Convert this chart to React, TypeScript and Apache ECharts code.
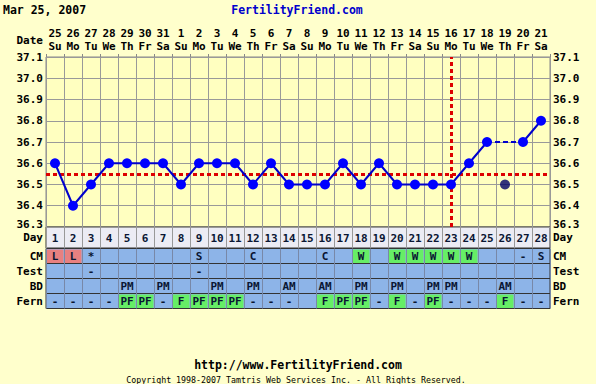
import React, { useEffect, useRef } from "react";
import * as echarts from "echarts";

const chartTitle = "Mar 25, 2007";
const siteName = "FertilityFriend.com";
const footerUrl = "http://www.FertilityFriend.com";
const copyright = "Copyright 1998-2007 Tamtris Web Services Inc. - All Rights Reserved.";

const dates = ["25","26","27","28","29","30","31","1","2","3","4","5","6","7","8","9","10","11","12","13","14","15","16","17","18","19","20","21"];
const weekdays = ["Su","Mo","Tu","We","Th","Fr","Sa","Su","Mo","Tu","We","Th","Fr","Sa","Su","Mo","Tu","We","Th","Fr","Sa","Su","Mo","Tu","We","Th","Fr","Sa"];
const cycleDays = dates.map((_, i) => String(i + 1));

// temperatures (null = discarded reading)
const temps: (number | null)[] = [36.6,36.4,36.5,36.6,36.6,36.6,36.6,36.5,36.6,36.6,36.6,36.5,36.6,36.5,36.5,36.5,36.6,36.5,36.6,36.5,36.5,36.5,36.5,36.6,36.7,null,36.7,36.8];
const discardedDays = ["26"];
const discardedTemps = [36.5];
const coverline = 36.555;
const ovulationDay = "23";

const tempTicks = [36.3, 37.1];

const rowNames = ["CM", "Test", "BD", "Fern"];
const cmRow = ["L","L","*","","","","","","S","","","C","","","","C","","W","","W","W","W","W","W","","","-","S"];
const testRow = ["","","-","","","","","","-","","","","","","","","","","","","","","","","","","",""];
const bdRow = ["","","","","PM","","PM","","","PM","","PM","","AM","","AM","","PM","","PM","","PM","PM","","","AM","",""];
const fernRow = ["-","-","-","-","PF","PF","-","F","PF","PF","PF","-","-","-","","F","PF","PF","-","F","-","PF","-","-","-","F","-","-"];

const FONT = '"DejaVu Sans Mono", monospace';

export default function App() {
  const ref = useRef<HTMLDivElement>(null);
  useEffect(() => {
    if (!ref.current) return;
    const chart = echarts.init(ref.current, undefined, { renderer: "svg" });

    const rows = [cmRow, testRow, bdRow, fernRow];
    const cells: { value: number[]; text: string }[] = [];
    rows.forEach((vals, r) =>
      vals.forEach((v, i) => {
        if (v) cells.push({ value: [i, r], text: v });
      })
    );
    const cellFill = (r: number, t: string) => {
      if (r === 0 && t === "L") return "#E88080";
      if (r === 0 && t === "W") return "#66EE66";
      if (r === 3 && (t === "PF" || t === "F")) return "#66EE66";
      return null;
    };

    // dashed bridge over discarded readings
    const bridge: (number | null)[] = temps.map(() => null);
    temps.forEach((t, i) => {
      if (t === null && i > 0 && i < temps.length - 1) {
        bridge[i - 1] = temps[i - 1];
        bridge[i + 1] = temps[i + 1];
      }
    });

    const tableText = (x: number, y: number, text: string) => ({
      type: "text",
      style: {
        text,
        x,
        y,
        align: "center",
        verticalAlign: "middle",
        font: `bold 11px ${FONT}`,
        fill: "#0A1633",
      },
    });

    const lbl = { margin: 3, color: "#000", fontWeight: "bold", fontFamily: FONT, fontSize: 11, lineHeight: 10 };
    const tempFmt = (v: number) =>
      Math.abs(v - tempTicks[0]) < 1e-6 ? `{low|${v.toFixed(1)}}` : v.toFixed(1);
    const tempRich = { low: { fontFamily: FONT, fontWeight: "bold", fontSize: 11, color: "#000", lineHeight: 10, padding: [0, 0, 6, 0] } };

    const option: any = {
      animation: false,
      backgroundColor: "#FFFFCC",
      textStyle: { fontFamily: FONT, fontWeight: "bold", fontSize: 11, color: "#000" },
      grid: [
        { left: 46, right: 46, top: 57, height: 170, show: true, backgroundColor: "#FFFFC0", borderColor: "#888", borderWidth: 1 },
        { left: 46, right: 46, top: 227, height: 21, show: true, backgroundColor: "#ECECF4", borderColor: "#333", borderWidth: 1 },
        { left: 46, right: 46, top: 248.5, height: 60, show: true, backgroundColor: "#8DB4E8", borderColor: "#333", borderWidth: 1 },
      ],
      xAxis: [
        {
          gridIndex: 0, type: "category", position: "top", data: cycleDays, boundaryGap: true,
          axisLine: { show: false },
          axisTick: { show: true, length: 3, interval: 0, lineStyle: { color: "#888" } },
          splitLine: { show: true, interval: 0, lineStyle: { color: "#999", width: 1 } },
          axisLabel: {
            interval: 0, margin: 4,
            formatter: (_v: string, idx: number) => `{d|${dates[idx]}}\n{w|${weekdays[idx]}}`,
            rich: {
              d: { fontFamily: FONT, fontWeight: "bold", fontSize: 11, lineHeight: 13, color: "#000" },
              w: { fontFamily: FONT, fontWeight: "bold", fontSize: 11, lineHeight: 13, color: "#000" },
            },
          },
        },
        {
          gridIndex: 1, type: "category", data: cycleDays, boundaryGap: true,
          axisLine: { show: false }, axisTick: { show: false }, axisLabel: { show: false },
          splitLine: { show: true, interval: 0, lineStyle: { color: "#999" } },
        },
        {
          gridIndex: 2, type: "category", data: cycleDays, boundaryGap: true,
          axisLine: { show: false }, axisTick: { show: false }, axisLabel: { show: false },
          splitLine: { show: true, interval: 0, lineStyle: { color: "#7888A8" } },
        },
      ],
      yAxis: [
        {
          gridIndex: 0, type: "value", min: tempTicks[0], max: tempTicks[1], interval: 0.1, position: "left",
          axisLine: { show: false }, axisTick: { show: false },
          splitLine: { show: true, lineStyle: { color: "#999" } },
          axisLabel: { ...lbl, formatter: tempFmt, rich: tempRich },
        },
        {
          gridIndex: 0, type: "value", min: tempTicks[0], max: tempTicks[1], interval: 0.1, position: "right",
          axisLine: { show: false }, axisTick: { show: false }, splitLine: { show: false },
          axisLabel: { ...lbl, formatter: tempFmt, rich: tempRich },
        },
        {
          gridIndex: 1, type: "category", data: ["Day"], position: "left",
          axisLine: { show: false }, axisTick: { show: false },
          axisLabel: { ...lbl },
        },
        {
          gridIndex: 1, type: "category", data: ["Day"], position: "right",
          axisLine: { show: false }, axisTick: { show: false },
          axisLabel: { ...lbl },
        },
        {
          gridIndex: 2, type: "category", data: rowNames, position: "left", inverse: true,
          axisLine: { show: false }, axisTick: { show: false },
          splitLine: { show: true, interval: 0, lineStyle: { color: "#333" } },
          axisLabel: { ...lbl, interval: 0 },
        },
        {
          gridIndex: 2, type: "category", data: rowNames, position: "right", inverse: true,
          axisLine: { show: false }, axisTick: { show: false },
          axisLabel: { ...lbl, interval: 0 },
        },
      ],
      series: [
        {
          type: "line", xAxisIndex: 0, yAxisIndex: 0, data: bridge, connectNulls: true,
          showSymbol: false, symbol: "none",
          lineStyle: { color: "#0000CC", width: 2, type: [5, 3] }, z: 3,
        },
        {
          type: "line", xAxisIndex: 0, yAxisIndex: 0, data: temps, connectNulls: false,
          symbol: "circle", symbolSize: 10, showAllSymbol: true,
          itemStyle: { color: "#0000FF" },
          lineStyle: { color: "#0000CC", width: 2 }, z: 4,
          markLine: {
            silent: true, symbol: "none", label: { show: false },
            lineStyle: { color: "#DD0000", width: 3, type: [4, 3] },
            data: [{ yAxis: coverline }, { xAxis: ovulationDay }],
            z: 2,
          },
        },
        {
          type: "scatter", xAxisIndex: 0, yAxisIndex: 0,
          data: discardedDays.map((d, i) => [d, discardedTemps[i]]),
          symbol: "circle", symbolSize: 10, itemStyle: { color: "#000066" }, z: 4,
        },
        {
          type: "custom", xAxisIndex: 1, yAxisIndex: 2,
          data: cycleDays.map((_, i) => [i, 0]),
          renderItem: (params: any, api: any) => {
            const p = api.coord([api.value(0), api.value(1)]);
            return tableText(p[0], p[1] + 1, cycleDays[params.dataIndex]);
          },
        },
        {
          type: "custom", xAxisIndex: 2, yAxisIndex: 4,
          data: cells.map((c) => c.value),
          renderItem: (params: any, api: any) => {
            const c = cells[params.dataIndex];
            const p = api.coord([api.value(0), api.value(1)]);
            const s = api.size([1, 1]);
            const fill = cellFill(c.value[1], c.text);
            const children: any[] = [];
            if (fill) {
              children.push({
                type: "rect",
                shape: { x: p[0] - s[0] / 2 + 1, y: p[1] - s[1] / 2 + 1, width: s[0] - 1.5, height: s[1] - 1.5 },
                style: { fill },
              });
            }
            children.push(tableText(p[0], p[1] + 0.5, c.text));
            return { type: "group", children };
          },
        },
      ],
      graphic: [
        { type: "text", left: 3, top: 4, style: { text: chartTitle, font: `bold 11.5px ${FONT}`, fill: "#000" } },
        { type: "text", x: 297, y: 10, style: { text: siteName, font: `bold 11.5px ${FONT}`, fill: "#0000CC", align: "center", verticalAlign: "middle" } },
        { type: "text", x: 43, y: 40, style: { text: "Date", font: `bold 11px ${FONT}`, fill: "#000", align: "right", verticalAlign: "middle" } },
        { type: "text", x: 298, y: 365, style: { text: footerUrl, font: `bold 11.5px ${FONT}`, fill: "#000", align: "center", verticalAlign: "middle" } },
        { type: "text", x: 296, y: 380, style: { text: copyright, font: `8.3px ${FONT}`, fill: "#000", align: "center", verticalAlign: "middle" } },
      ],
    };
    chart.setOption(option);
    return () => chart.dispose();
  }, []);
  return <div ref={ref} style={{ position: "absolute", left: 0, top: 0, width: 596, height: 384 }} />;
}
